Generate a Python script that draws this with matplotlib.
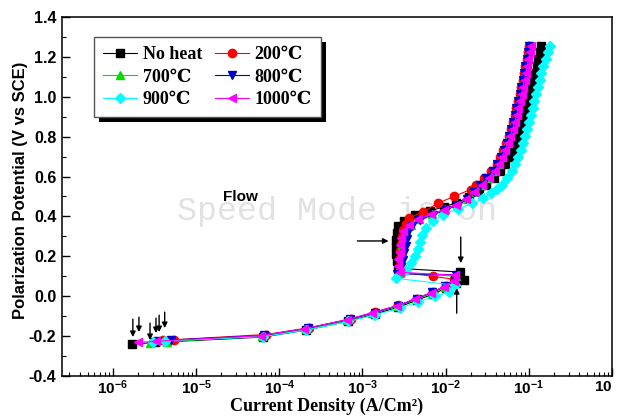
import numpy as np
import matplotlib
matplotlib.use("Agg")
import matplotlib.pyplot as plt
from matplotlib.patches import Rectangle

plt.rcParams['axes.unicode_minus'] = False
plt.rcParams['mathtext.fontset'] = 'custom'
plt.rcParams['mathtext.bf'] = 'Liberation Sans:bold'
plt.rcParams['mathtext.rm'] = 'Liberation Sans'

# upper (anodic) potentials shared by every curve
y_up = [0.560, 0.595, 0.630, 0.665, 0.700, 0.735, 0.770, 0.805, 0.840, 0.875, 0.910,
        0.945, 0.980, 1.015, 1.050, 1.085, 1.120, 1.155, 1.190, 1.225, 1.255]

# No heat
x_noheat = [1.7e-6, 3.2e-6, 6.3e-5, 2.1e-4, 6.8e-4, 1.4e-3, 2.7e-3, 4.5e-3, 7.0e-3, 1.0e-2,
            1.35e-2, 1.65e-2, 1.5e-2, 2.7e-3, 2.6e-3, 2.5e-3, 2.5e-3, 2.5e-3, 2.6e-3, 2.7e-3,
            3.2e-3, 4.3e-3, 6.5e-3, 9.5e-3, 1.35e-2, 1.9e-2, 2.5e-2,
            0.031, 0.038, 0.045, 0.052, 0.059, 0.065, 0.071, 0.077, 0.082, 0.087, 0.091,
            0.096, 0.100, 0.105, 0.109, 0.114, 0.119, 0.124, 0.129, 0.135, 0.140]
y_noheat = [-0.240, -0.232, -0.205, -0.170, -0.125, -0.090, -0.055, -0.020, 0.010, 0.040,
            0.068, 0.081, 0.121, 0.140, 0.175, 0.210, 0.245, 0.280, 0.315, 0.350,
            0.378, 0.405, 0.428, 0.448, 0.468, 0.495, 0.527] + y_up

# 200 C
x_200 = [4.0e-6, 5.5e-6, 7.0e-5, 2.3e-4, 7.2e-4, 1.4e-3, 2.7e-3, 4.5e-3, 7.0e-3, 1.0e-2,
         1.25e-2, 7.0e-3, 2.9e-3, 2.8e-3, 2.8e-3, 2.8e-3, 2.9e-3, 3.0e-3, 3.1e-3, 3.3e-3,
         3.6e-3, 5.3e-3, 8.2e-3, 1.25e-2, 2.0e-2,
         0.023, 0.029, 0.035, 0.041, 0.045, 0.049, 0.053, 0.057, 0.061, 0.065, 0.068,
         0.071, 0.075, 0.078, 0.081, 0.085, 0.088, 0.091, 0.095, 0.098, 0.101]
y_200 = [-0.222, -0.218, -0.192, -0.158, -0.114, -0.080, -0.046, -0.012, 0.020, 0.052,
         0.085, 0.100, 0.120, 0.155, 0.190, 0.225, 0.260, 0.295, 0.330, 0.362,
         0.392, 0.422, 0.467, 0.500, 0.535] + y_up

# 700 C
x_700 = [2.8e-6, 4.5e-6, 6.2e-5, 2.1e-4, 6.6e-4, 1.3e-3, 2.6e-3, 4.4e-3, 6.8e-3, 9.8e-3,
         1.28e-2, 1.32e-2, 2.8e-3, 2.8e-3, 2.9e-3, 3.0e-3, 3.0e-3, 3.1e-3, 3.3e-3, 3.8e-3,
         4.8e-3, 6.8e-3, 9.8e-3, 1.38e-2, 1.8e-2, 2.3e-2,
         0.027, 0.032, 0.038, 0.043, 0.047, 0.051, 0.055, 0.058, 0.062, 0.066, 0.070,
         0.073, 0.076, 0.080, 0.083, 0.087, 0.090, 0.093, 0.097, 0.100, 0.103]
y_700 = [-0.235, -0.228, -0.200, -0.166, -0.121, -0.086, -0.051, -0.016, 0.015, 0.046,
         0.076, 0.100, 0.118, 0.150, 0.185, 0.220, 0.255, 0.290, 0.325, 0.357,
         0.386, 0.412, 0.436, 0.460, 0.488, 0.524] + y_up

# 800 C
x_800 = [3.4e-6, 5.0e-6, 6.6e-5, 2.2e-4, 7.0e-4, 1.4e-3, 2.7e-3, 4.5e-3, 6.9e-3, 9.9e-3,
         1.3e-2, 1.35e-2, 2.6e-3, 2.9e-3, 3.1e-3, 3.2e-3, 3.3e-3, 3.4e-3, 3.5e-3, 3.9e-3,
         4.9e-3, 7.0e-3, 1.0e-2, 1.4e-2, 1.8e-2, 2.2e-2,
         0.026, 0.031, 0.037, 0.042, 0.046, 0.050, 0.054, 0.057, 0.061, 0.065, 0.068,
         0.071, 0.074, 0.078, 0.081, 0.084, 0.088, 0.091, 0.094, 0.098, 0.101]
y_800 = [-0.225, -0.220, -0.196, -0.161, -0.116, -0.082, -0.047, -0.012, 0.019, 0.050,
         0.080, 0.108, 0.112, 0.145, 0.180, 0.215, 0.250, 0.285, 0.320, 0.352,
         0.382, 0.408, 0.432, 0.458, 0.486, 0.522] + y_up

# 900 C
x_900 = [3.0e-6, 4.2e-6, 6.3e-5, 2.1e-4, 6.8e-4, 1.4e-3, 2.8e-3, 4.7e-3, 7.5e-3, 1.1e-2,
         1.3e-2, 2.5e-3, 3.3e-3, 3.8e-3, 4.3e-3, 4.6e-3, 4.9e-3, 5.2e-3, 5.8e-3, 7.0e-3,
         9.2e-3, 1.4e-2, 2.1e-2, 2.8e-2, 3.5e-2, 4.2e-2,
         0.048, 0.055, 0.062, 0.068, 0.074, 0.080, 0.086, 0.091, 0.096, 0.101, 0.106,
         0.111, 0.116, 0.122, 0.128, 0.135, 0.142, 0.150, 0.159, 0.170, 0.180]
y_900 = [-0.228, -0.224, -0.203, -0.170, -0.126, -0.094, -0.060, -0.028, 0.000, 0.020,
         0.055, 0.090, 0.130, 0.165, 0.200, 0.235, 0.270, 0.305, 0.340, 0.375,
         0.408, 0.438, 0.465, 0.490, 0.518, 0.540] + y_up

# 1000 C
x_1000 = [2.0e-6, 3.3e-6, 6.0e-5, 2.0e-4, 6.5e-4, 1.3e-3, 2.6e-3, 4.3e-3, 6.7e-3, 9.6e-3,
          1.25e-2, 1.3e-2, 2.8e-3, 2.7e-3, 2.7e-3, 2.8e-3, 2.8e-3, 2.9e-3, 3.1e-3, 3.6e-3,
          4.6e-3, 6.6e-3, 9.6e-3, 1.35e-2, 1.75e-2, 2.2e-2,
          0.027, 0.033, 0.039, 0.044, 0.048, 0.052, 0.056, 0.060, 0.064, 0.068, 0.072,
          0.075, 0.078, 0.082, 0.085, 0.089, 0.092, 0.096, 0.099, 0.103, 0.106]
y_1000 = [-0.232, -0.226, -0.198, -0.163, -0.118, -0.083, -0.048, -0.013, 0.018, 0.048,
          0.078, 0.105, 0.120, 0.150, 0.185, 0.220, 0.255, 0.290, 0.325, 0.355,
          0.385, 0.410, 0.433, 0.458, 0.485, 0.522] + y_up

labels = ['No heat', '200\u2103', '700\u2103', '800\u2103', '900\u2103', '1000\u2103']
colors = ['black', 'red', '#00dd00', '#0000cc', 'cyan', 'magenta']
markers = ['s', 'o', '^', 'v', 'D', '<']
xs = [x_noheat, x_200, x_700, x_800, x_900, x_1000]
ys = [y_noheat, y_200, y_700, y_800, y_900, y_1000]

# arrows: (x_tail, y_tail, x_tip, y_tip)
arrows = [(1.74e-6, -0.115, 1.74e-6, -0.205),
          (2.06e-6, -0.105, 2.06e-6, -0.180),
          (2.8e-6, -0.135, 2.8e-6, -0.220),
          (3.3e-6, -0.110, 3.3e-6, -0.185),
          (3.6e-6, -0.095, 3.6e-6, -0.180),
          (4.2e-6, -0.080, 4.2e-6, -0.160),
          (8.7e-4, 0.277, 2.06e-3, 0.277),
          (0.0152, 0.297, 0.0152, 0.166),
          (0.0136, -0.085, 0.0136, 0.041)]

fig = plt.figure(figsize=(6.19, 4.16), dpi=100)
ax = fig.add_axes([0.1002, 0.0962, 0.8885, 0.8629])

handles = []
for x, y, c, m, lab in zip(xs, ys, colors, markers, labels):
    ms = 5 if m == 'D' else 6
    h, = ax.plot(x, y, color=c, marker=m, markersize=ms, markeredgecolor=c,
                 linewidth=0.8, label=lab)
    handles.append(h)

for x0, y0, x1, y1 in arrows:
    ax.annotate('', xy=(x1, y1), xytext=(x0, y0),
                arrowprops=dict(arrowstyle='-|>', color='black', lw=1.0,
                                mutation_scale=8, shrinkA=0, shrinkB=0))

ax.set_xscale('log')
ax.set_xlim(2.45e-7, 1.0)
ax.set_ylim(-0.4, 1.4)

xt = [1e-6, 1e-5, 1e-4, 1e-3, 1e-2, 1e-1, 1.0]
ax.set_xticks(xt)
ax.set_xticklabels([r'$\mathbf{10^{-6}}$', r'$\mathbf{10^{-5}}$', r'$\mathbf{10^{-4}}$',
                    r'$\mathbf{10^{-3}}$', r'$\mathbf{10^{-2}}$', r'$\mathbf{10^{-1}}$',
                    r'$\mathbf{10}$'], fontsize=11)
ax.get_xticklabels()[-1].set_ha('right')
yt = [-0.4, -0.2, 0.0, 0.2, 0.4, 0.6, 0.8, 1.0, 1.2, 1.4]
ax.set_yticks(yt)
ax.set_yticklabels(['%.1f' % v for v in yt], fontsize=11.5, fontweight='bold',
                   family='Liberation Sans')
ax.set_yticks(np.arange(-0.3, 1.4, 0.2), minor=True)
ax.tick_params(which='both', direction='in', top=False, right=False)
ax.tick_params(which='major', length=6, width=1, pad=4)
ax.tick_params(axis='x', which='major', pad=2)
ax.tick_params(which='minor', length=3, width=0.8)
ax.tick_params(axis='y', which='minor', labelleft=False)
for s in ax.spines.values():
    s.set_linewidth(1.1)

ax.text(10 ** -4.47, 0.497, 'Flow', fontsize=11, fontweight='bold',
        family='Liberation Sans', ha='center', va='center')
ax.text(0.5, 0.457, 'Speed Mode is On', transform=ax.transAxes, fontsize=24,
        family='Liberation Mono', color='#e2e2e2', ha='center', va='center', zorder=0)

fig.text(327 / 619, 1 - 406 / 416, 'Current Density (A/Cm\u00b2)', fontsize=13,
         fontweight='bold', family='Liberation Serif', ha='center', va='center')
fig.text(21 / 619, 1 - 190 / 416, 'Polarization Potential (V vs SCE)', fontsize=12,
         fontweight='bold', family='Liberation Sans', rotation=90,
         ha='center', va='center')

# legend filled row by row: No heat, 200 / 700, 800 / 900, 1000
order = [0, 2, 4, 1, 3, 5]
leg = ax.legend([handles[i] for i in order], [labels[i] for i in order],
                ncol=2, loc='upper left', bbox_to_anchor=(0.058, 0.944),
                borderaxespad=0, fancybox=False, edgecolor='#555555',
                framealpha=1, numpoints=1, handlelength=1.9, handletextpad=0.3,
                columnspacing=0.7, labelspacing=0.3, borderpad=0.5,
                prop={'family': ['Liberation Serif', 'DejaVu Serif'],
                      'weight': 'bold', 'size': 13})
leg.get_frame().set_linewidth(1.0)

fig.canvas.draw()
bb = leg.get_window_extent(fig.canvas.get_renderer())
bb = bb.transformed(ax.transAxes.inverted())
dx = 5 / (0.8885 * 619)
dy = 5 / (0.8629 * 416)
shadow = Rectangle((bb.x0 + dx, bb.y0 - dy), bb.width, bb.height,
                   transform=ax.transAxes, facecolor='black', edgecolor='none',
                   zorder=4.9, clip_on=False)
ax.add_patch(shadow)

fig.savefig('out.png', dpi=100)
